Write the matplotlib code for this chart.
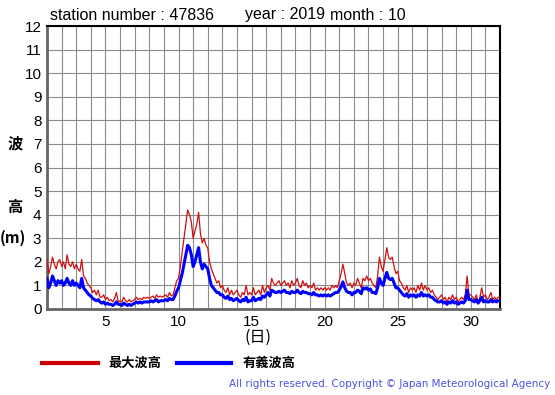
import numpy as np
import matplotlib
matplotlib.use("Agg")
from matplotlib import pyplot as plt

# 3-hourly readings per day (00, 03, 06, ... 21h), October 2019, station 47836
max_wave = [
    [2.1, 1.5, 1.8, 2.2, 1.9, 1.7, 2.0, 2.1],   # 1
    [1.8, 2.0, 1.7, 2.3, 1.9, 1.8, 2.0, 1.7],   # 2
    [1.9, 1.7, 1.6, 2.1, 1.4, 1.3, 1.1, 1.0],   # 3
    [0.9, 0.7, 0.8, 0.6, 0.8, 0.5, 0.5, 0.6],   # 4
    [0.4, 0.5, 0.35, 0.4, 0.3, 0.45, 0.7, 0.3], # 5
    [0.35, 0.3, 0.5, 0.35, 0.3, 0.4, 0.3, 0.35],# 6
    [0.4, 0.5, 0.4, 0.45, 0.4, 0.5, 0.45, 0.5], # 7
    [0.45, 0.5, 0.55, 0.45, 0.6, 0.5, 0.55, 0.5],# 8
    [0.55, 0.6, 0.5, 0.7, 0.55, 0.6, 0.9, 1.2], # 9
    [1.3, 1.8, 2.4, 3.0, 3.6, 4.2, 4.0, 3.7],   # 10
    [3.0, 3.3, 3.6, 4.1, 3.2, 2.8, 3.0, 2.7],   # 11
    [2.6, 2.0, 1.7, 1.5, 1.3, 1.1, 1.2, 0.9],   # 12
    [1.0, 0.8, 0.7, 0.9, 0.6, 0.8, 0.6, 0.7],   # 13
    [0.8, 0.6, 0.5, 0.7, 0.6, 1.0, 0.6, 0.7],   # 14
    [0.6, 0.9, 0.6, 0.7, 0.8, 0.6, 1.0, 0.7],   # 15
    [0.9, 1.0, 0.8, 1.3, 1.1, 1.0, 1.1, 1.2],   # 16
    [1.0, 1.1, 1.2, 1.0, 1.1, 0.9, 1.2, 1.0],   # 17
    [1.1, 1.3, 1.0, 0.9, 1.2, 1.0, 1.1, 0.9],   # 18
    [1.0, 0.9, 1.1, 0.8, 0.9, 0.8, 0.9, 0.8],   # 19
    [0.9, 0.8, 0.9, 0.8, 1.0, 0.9, 1.0, 0.9],   # 20
    [1.2, 1.5, 1.9, 1.5, 1.1, 1.0, 1.1, 0.9],   # 21
    [1.1, 1.0, 1.3, 1.1, 0.9, 1.3, 1.2, 1.4],   # 22
    [1.2, 1.3, 1.1, 1.0, 0.9, 1.4, 2.2, 1.8],   # 23
    [1.6, 2.1, 2.6, 2.2, 2.1, 2.2, 1.8, 1.5],   # 24
    [1.6, 1.2, 1.1, 0.9, 0.8, 1.0, 0.7, 0.9],   # 25
    [0.8, 0.9, 0.7, 1.0, 0.8, 1.1, 0.8, 1.0],   # 26
    [0.8, 0.9, 0.7, 0.8, 0.6, 0.5, 0.4, 0.5],   # 27
    [0.6, 0.4, 0.5, 0.3, 0.5, 0.4, 0.6, 0.4],   # 28
    [0.5, 0.3, 0.4, 0.5, 0.4, 0.6, 1.4, 0.6],   # 29
    [0.6, 0.5, 0.4, 0.6, 0.3, 0.5, 0.9, 0.5],   # 30
    [0.6, 0.4, 0.5, 0.7, 0.4, 0.5, 0.4, 0.5],   # 31
    [0.5],
]

sig_wave = [
    [1.3, 0.9, 1.1, 1.4, 1.2, 1.0, 1.2, 1.1],
    [1.2, 1.0, 1.1, 1.3, 1.1, 1.0, 1.2, 1.0],
    [1.1, 1.0, 0.9, 1.3, 0.9, 0.8, 0.7, 0.6],
    [0.55, 0.45, 0.4, 0.35, 0.4, 0.3, 0.25, 0.3],
    [0.2, 0.25, 0.2, 0.2, 0.15, 0.2, 0.3, 0.2],
    [0.2, 0.15, 0.25, 0.2, 0.15, 0.2, 0.15, 0.2],
    [0.25, 0.3, 0.25, 0.3, 0.25, 0.3, 0.3, 0.3],
    [0.3, 0.35, 0.3, 0.35, 0.4, 0.3, 0.35, 0.35],
    [0.35, 0.4, 0.35, 0.45, 0.4, 0.4, 0.55, 0.75],
    [0.9, 1.2, 1.5, 1.9, 2.3, 2.7, 2.6, 2.3],
    [1.8, 2.0, 2.3, 2.6, 2.0, 1.7, 1.9, 1.8],
    [1.7, 1.3, 1.0, 0.9, 0.8, 0.7, 0.7, 0.6],
    [0.6, 0.5, 0.45, 0.55, 0.4, 0.45, 0.35, 0.4],
    [0.45, 0.35, 0.3, 0.4, 0.35, 0.5, 0.3, 0.35],
    [0.35, 0.5, 0.35, 0.4, 0.45, 0.4, 0.55, 0.5],
    [0.6, 0.7, 0.55, 0.8, 0.75, 0.7, 0.7, 0.75],
    [0.7, 0.75, 0.8, 0.7, 0.7, 0.65, 0.75, 0.7],
    [0.7, 0.8, 0.7, 0.65, 0.75, 0.7, 0.7, 0.65],
    [0.65, 0.6, 0.7, 0.6, 0.6, 0.55, 0.6, 0.55],
    [0.6, 0.55, 0.6, 0.55, 0.6, 0.65, 0.7, 0.7],
    [0.8, 0.95, 1.15, 0.9, 0.75, 0.7, 0.7, 0.6],
    [0.7, 0.7, 0.8, 0.75, 0.65, 0.9, 0.85, 0.9],
    [0.8, 0.85, 0.7, 0.7, 0.65, 0.9, 1.3, 1.1],
    [1.0, 1.3, 1.55, 1.3, 1.25, 1.3, 1.1, 0.9],
    [0.9, 0.8, 0.7, 0.6, 0.55, 0.65, 0.5, 0.6],
    [0.55, 0.6, 0.5, 0.6, 0.55, 0.7, 0.55, 0.6],
    [0.55, 0.6, 0.5, 0.5, 0.4, 0.35, 0.3, 0.3],
    [0.35, 0.25, 0.3, 0.2, 0.3, 0.25, 0.35, 0.25],
    [0.3, 0.2, 0.25, 0.3, 0.25, 0.35, 0.8, 0.4],
    [0.4, 0.35, 0.3, 0.4, 0.25, 0.35, 0.5, 0.3],
    [0.35, 0.3, 0.3, 0.4, 0.3, 0.35, 0.3, 0.35],
    [0.35],
]

x_ticks = [5, 10, 15, 20, 25, 30]
y_ticks = list(range(0, 13))

hmax = np.concatenate([np.array(d, dtype=float) for d in max_wave])
hsig = np.concatenate([np.array(d, dtype=float) for d in sig_wave])
t = 1 + np.arange(len(hmax)) / 8.0

plt.rcParams['font.family'] = ['Liberation Sans', 'Noto Sans CJK JP', 'DejaVu Sans']

fig = plt.figure(figsize=(5.55, 3.95), dpi=100)
ax = fig.add_axes([47 / 555, 1 - 309 / 395, 453 / 555, 283 / 395])

ax.plot(t, hmax, color='#d01010', linewidth=0.9, zorder=3)
ax.plot(t, hsig, color='#0000ff', linewidth=2.2, zorder=4)

ax.set_xlim(1, 32)
ax.set_ylim(0, 12)
ax.set_xticks(range(1, 33), minor=True)
ax.set_xticks(x_ticks)
ax.set_yticks(y_ticks)
ax.grid(True, which='both', axis='x', color='#8c8c8c', linewidth=0.8)
ax.grid(True, which='major', axis='y', color='#8c8c8c', linewidth=0.8)
ax.tick_params(which='both', length=0, labelsize=11, pad=4)

for side in ['left', 'bottom']:
    ax.spines[side].set_color('#666666')
    ax.spines[side].set_linewidth(2)
for side in ['top', 'right']:
    ax.spines[side].set_color('black')
    ax.spines[side].set_linewidth(1.5)

# header
fig.text(50 / 555, 1 - 15 / 395, 'station number : 47836', fontsize=11.5, va='center')
fig.text(245 / 555, 1 - 15 / 395, 'year : 2019', fontsize=11.5, va='center')
fig.text(330 / 555, 1 - 15 / 395, 'month : 10', fontsize=11.5, va='center')

# y label
jp = ['Noto Sans CJK JP', 'DejaVu Sans']
fig.text(15 / 555, 1 - 143 / 395, '波', family=jp, fontsize=11, fontweight='bold', ha='center', va='center')
fig.text(15 / 555, 1 - 207 / 395, '高', family=jp, fontsize=11, fontweight='bold', ha='center', va='center')
fig.text(13 / 555, 1 - 238 / 395, '(m)', family=jp, fontsize=11, fontweight='bold', ha='center', va='center')
fig.text(258 / 555, 1 - 337 / 395, '(日)', family=jp, fontsize=11.5, ha='center', va='center')

# legend
fig.add_artist(plt.Line2D([42 / 555, 98 / 555], [1 - 363 / 395] * 2, color='#cc0000', linewidth=3))
fig.text(108 / 555, 1 - 363 / 395, '最大波高', family=jp, fontsize=9.5, fontweight='bold', va='center')
fig.add_artist(plt.Line2D([177 / 555, 231 / 555], [1 - 363 / 395] * 2, color='#0000ff', linewidth=3))
fig.text(243 / 555, 1 - 363 / 395, '有義波高', family=jp, fontsize=9.5, fontweight='bold', va='center')

fig.text(550 / 555, 1 - 384 / 395, 'All rights reserved. Copyright © Japan Meteorological Agency',
         fontsize=7.5, color='#5050e0', ha='right', va='center', family=['DejaVu Sans'])

plt.savefig('out.png', dpi=100)
